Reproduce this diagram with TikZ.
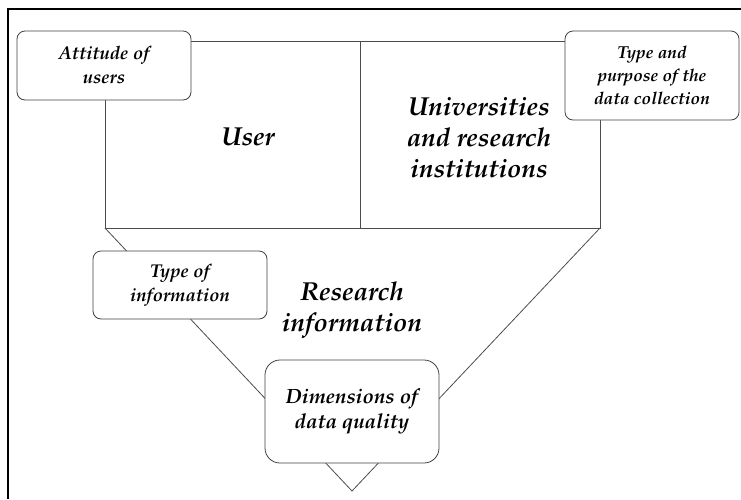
\documentclass[tikz,border=0pt]{standalone}
\usepackage[T1]{fontenc}
\usepackage{mathpazo}
\tikzset{
  edge/.style={draw=black!70,line width=0.8pt},
  note/.style={draw=black!75,line width=0.8pt,fill=white,rounded corners=8pt,
    align=center,inner sep=0pt,minimum width=174pt,
    font=\fontsize{18.5}{24}\selectfont\bfseries\itshape},
  title/.style={align=center,font=\fontsize{26}{31}\selectfont\bfseries\itshape}
}

\begin{document}
\begin{tikzpicture}[x=1pt,y=-1pt]
    \useasboundingbox (0,0) rectangle (741,499);
    \draw[line width=2pt] (741,9) -- (8,9) -- (8,499);
    % corners of the frame
    \coordinate (tl) at (105,41);
    \coordinate (tm) at (360,41);
    \coordinate (tr) at (600,41);
    \coordinate (bl) at (105,228);
    \coordinate (bm) at (360,228);
    \coordinate (br) at (600,228);
    \coordinate (apex) at (352,491);
    \draw[edge] (tl) -- (tr) -- (br) -- (bl) -- cycle;
    \draw[edge] (tm) -- (bm);
    \draw[edge] (bl) -- (apex) -- (br);
    % texts
    \node[title] (user) at (248,137) {User};
    \node[title] (univ) at (479,137) {Universities\\and research\\institutions};
    \node[title] (research) at (352,310) {Research\\information};
    % boxes
    \node[note,minimum height=69pt] (attitude) at (104,65.5) {Attitude of\\users};
    \node[note,minimum height=89pt,font=\fontsize{17.3}{23}\selectfont\bfseries\itshape] (purpose) at (652,75.5) {Type and\\purpose of the\\data collection};
    \node[note,minimum height=68pt] (typeinfo) at (180,285) {Type of\\information};
    \node[note,minimum height=103pt,rounded corners=15pt,font=\fontsize{20.6}{25}\selectfont\bfseries\itshape] (dims) at (352,411.5) {Dimensions of\\data quality};
\end{tikzpicture}
\end{document}
